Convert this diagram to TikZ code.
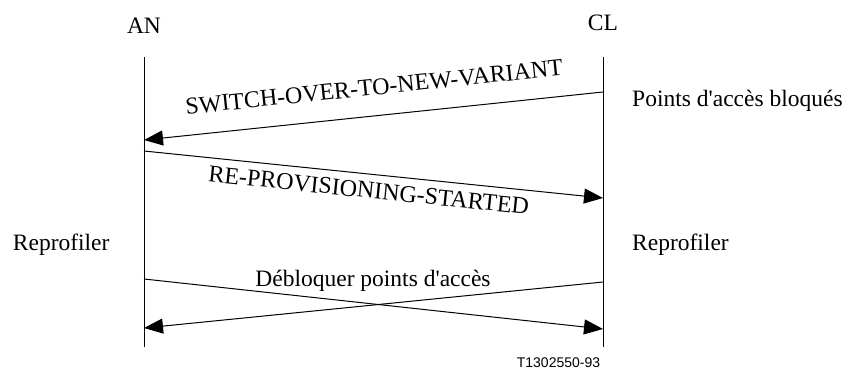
\documentclass[tikz,border=0pt]{standalone}
\usepackage{fontspec}
\setmainfont{Liberation Serif}[Ligatures=TeXOff]
\newfontfamily\refsans{Liberation Sans}
\usetikzlibrary{arrows.meta}
\begin{document}
\begin{tikzpicture}[x=1pt,y=-1pt,
  lifeline/.style={line width=1pt},
  msg/.style={line width=1pt,-{Triangle[length=19pt,width=15pt]}},
  lbl/.style={inner sep=0pt,font=\fontsize{23.5}{28}\selectfont},
  slbl/.style={inner sep=0pt,font=\fontsize{24}{28}\selectfont},
  tag/.style={inner sep=0pt,font=\refsans\fontsize{14}{16}\selectfont}]
\useasboundingbox (0,0) rectangle (849,372);

% entity names
\node[lbl,anchor=base] (an) at (144,33) {AN};
\node[lbl,anchor=base] (cl) at (603,30) {CL};

% lifelines
\coordinate (anTop) at (144,57);
\coordinate (anBot) at (144,347);
\coordinate (clTop) at (603,57);
\coordinate (clBot) at (603,347);
\draw[lifeline] (anTop) -- (anBot);
\draw[lifeline] (clTop) -- (clBot);

% message end points on the lifelines
\coordinate (m1s) at (603,92);
\coordinate (m1e) at (144,140);
\coordinate (m2s) at (144,151);
\coordinate (m2e) at (603,198);
\coordinate (m3s) at (144,279);
\coordinate (m3e) at (603,329);
\coordinate (m4s) at (603,282);
\coordinate (m4e) at (144,328);

% messages
\draw[msg] (m1s) -- (m1e);
\draw[msg] (m2s) -- (m2e);
\draw[msg] (m3s) -- (m3e);
\draw[msg] (m4s) -- (m4e);

% message labels
\node[slbl,anchor=base,rotate=5.95] (t1) at (375,95) {SWITCH-OVER-TO-NEW-VARIANT};
\node[slbl,anchor=base,rotate=-5.85] (t2) at (368,198) {RE-PROVISIONING-STARTED};
\node[lbl,anchor=base] (t3) at (373,286) {Débloquer points d'accès};

% state notes
\node[lbl,anchor=base west] (s1) at (632,106) {Points d'accès bloqués};
\node[lbl,anchor=base west] (s2) at (12.7,250) {Reprofiler};
\node[lbl,anchor=base west] (s3) at (632,250) {Reprofiler};

% figure tag
\node[tag,anchor=base] (fig) at (558.5,367) {T1302550-93};
\end{tikzpicture}
\end{document}
